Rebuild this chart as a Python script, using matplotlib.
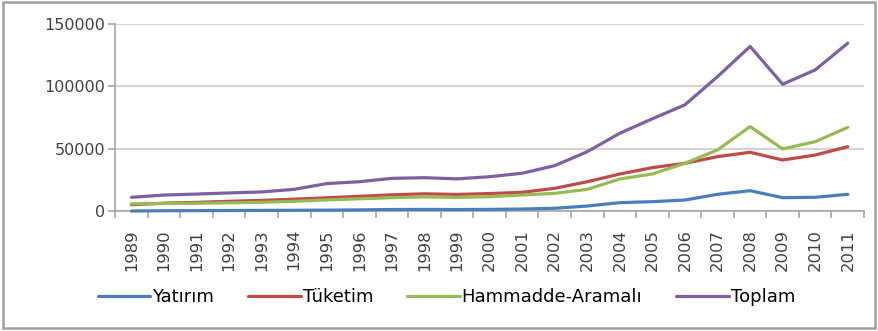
import matplotlib
matplotlib.use("Agg")
import matplotlib.pyplot as plt
from matplotlib.patches import Rectangle

# ---- data ----
years = [str(y) for y in range(1989, 2012)]
yatirim = [0, 200, 300, 400, 500, 600, 700, 900, 1200, 1300, 1200, 1300,
           1600, 2200, 4000, 6700, 7500, 8800, 13400, 16300, 10700, 11000, 13400]
tuketim = [5000, 6300, 6900, 7800, 8500, 9500, 10600, 11800, 13000, 13800, 13300, 14000,
           15000, 18200, 23500, 29700, 34800, 38300, 43600, 47100, 40900, 44900, 51600]
hammadde = [5800, 6000, 6200, 6600, 7000, 7800, 8900, 9800, 10700, 11300, 10900, 11500,
            12800, 14200, 17400, 25700, 29700, 38300, 49000, 67700, 49800, 55600, 67100]
toplam = [11000, 12800, 13600, 14500, 15300, 17400, 22000, 23500, 26200, 26700, 25800, 27500,
          30300, 36400, 47600, 62400, 74000, 85200, 107800, 132000, 101700, 113200, 134600]
yticks = [0, 50000, 100000, 150000]

series = [("Yatırım", yatirim, "#4a7ebb"),
          ("Tüketim", tuketim, "#be4b48"),
          ("Hammadde-Aramalı", hammadde, "#98b954"),
          ("Toplam", toplam, "#7d60a0")]

fig = plt.figure(figsize=(8.79, 3.31), dpi=100)
ax = fig.add_axes([0.131, 0.3625, 0.852, 0.565])

x = list(range(len(years)))
for name, vals, col in series:
    ax.plot(x, vals, color=col, lw=2.3, label=name, solid_capstyle="round",
            zorder=3, clip_on=False)

grid_c = "#d4d4d4"
ax.set_ylim(0, 150000)
ax.set_xlim(-0.5, len(years) - 0.5)
ax.set_yticks(yticks)
ax.set_yticklabels([str(v) for v in yticks])
ax.yaxis.grid(True, color=grid_c, lw=1.6)
ax.set_axisbelow(True)

# category axis: ticks between categories, labels at categories
ax.set_xticks([i - 0.5 for i in range(len(years) + 1)], minor=False)
ax.set_xticklabels([])
ax.set_xticks(x, minor=True)
ax.set_xticklabels(years, minor=True, rotation=90, fontsize=11.8, color="#404040")
ax.tick_params(axis="x", which="major", length=5, width=1.2, color="#a6a6a6", direction="out")
ax.tick_params(axis="x", which="minor", length=0, pad=13)
ax.tick_params(axis="y", length=5, width=1.2, color="#a6a6a6", labelsize=11.5,
               labelcolor="#404040", pad=2)

for s in ("top", "right"):
    ax.spines[s].set_visible(False)
ax.spines["left"].set_color("#a6a6a6")
ax.spines["left"].set_linewidth(1.2)
ax.spines["bottom"].set_color("#a6a6a6")
ax.spines["bottom"].set_linewidth(1.2)

fig.legend(loc="center", bbox_to_anchor=(0.508, 0.103), ncol=4, frameon=False,
           fontsize=13, handlelength=2.9, handletextpad=0.1, columnspacing=1.9)

# outer chart frame
fig.patches.append(Rectangle((0.003, 0.008), 0.992, 0.985, transform=fig.transFigure,
                             fill=False, edgecolor="#a0a0a0", lw=1.8))

fig.savefig("out.png", dpi=100)
